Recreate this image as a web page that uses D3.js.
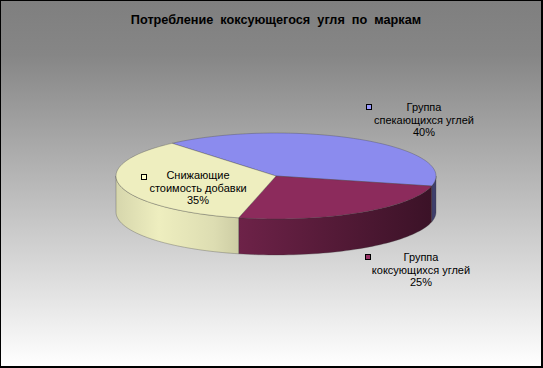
<!DOCTYPE html>
<html><head><meta charset="utf-8">
<script src="https://cdn.jsdelivr.net/npm/d3@7/dist/d3.min.js"></script>
<style>
html,body{margin:0;padding:0;background:#fff;}
svg{display:block;}
text{font-family:"Liberation Sans",Arial,sans-serif;}
</style></head>
<body>
<script>
// ---- data ----
const title = "Потребление  коксующегося  угля  по  маркам";
const categories = ["Группа спекающихся углей", "Группа коксующихся углей", "Снижающие стоимость добавки"];
const labelLines = [["Группа", "спекающихся углей"], ["Группа", "коксующихся углей"], ["Снижающие", "стоимость добавки"]];
const values = [40, 25, 35];

// ---- styles ----
const topColors = ["#8b8bee", "#8c2b5c", "#eeeebf"];
const keyColors = ["#9999ff", "#993366", "#ffffcc"];
const sideStops = [
  [[0, 0.45], [1, 0.45]],
  [[0, 0.78], [0.5, 0.6], [1, 0.42]],
  [[0, 0.9], [0.35, 1.0], [0.8, 0.93], [1, 0.86]]
];
const labelPos = [[424, 107], [421, 257], [198, 175]];
const keyPos = [[366, 104], [365, 254], [141, 174]];

const W = 543, H = 368;
const cx = 276, cy = 176, rx = 160, ry = 43, depth = 36;
const startDeg = 319.5;

const svg = d3.select("body").append("svg").attr("width", W).attr("height", H);
const defs = svg.append("defs");
const bg = defs.append("linearGradient").attr("id", "bg").attr("x1", 0).attr("y1", 0).attr("x2", 0).attr("y2", 1);
bg.append("stop").attr("offset", "0").attr("stop-color", "#7f7f7f");
bg.append("stop").attr("offset", "0.15").attr("stop-color", "#868686");
bg.append("stop").attr("offset", "1").attr("stop-color", "#ffffff");
svg.append("rect").attr("x", 0.5).attr("y", 0.5).attr("width", W - 2).attr("height", H - 2)
  .attr("fill", "url(#bg)").attr("stroke", "#000").attr("stroke-width", 1);
svg.append("rect").attr("x", W - 2).attr("y", 0).attr("width", 2).attr("height", H).attr("fill", "#000");
svg.append("rect").attr("x", 0).attr("y", H - 2).attr("width", W).attr("height", 2).attr("fill", "#000");

svg.append("text").attr("x", 276).attr("y", 24).attr("text-anchor", "middle")
  .attr("font-size", 12.7).attr("font-weight", "bold").attr("fill", "#000")
  .style("white-space", "pre").text(title);

const rad = Math.PI / 180;
const pie = d3.pie().sort(null).value(d => d).startAngle(startDeg * rad).endAngle((startDeg + 360) * rad);
const arcs = pie(values);

const ex = a => cx + rx * Math.sin(a);
const ey = (a, dy = 0) => cy - ry * Math.cos(a) + dy;

function topPath(d) {
  const n = 60, pts = [[cx, cy]];
  for (let i = 0; i <= n; i++) {
    const a = d.startAngle + (d.endAngle - d.startAngle) * i / n;
    pts.push([ex(a), ey(a)]);
  }
  return d3.line()(pts) + "Z";
}

// side visible where d3 angle in [90deg, 270deg] (mod 360)
function sideRange(d) {
  const res = [];
  for (let k = -1; k <= 2; k++) {
    const lo = (90 + 360 * k) * rad, hi = (270 + 360 * k) * rad;
    const s = Math.max(d.startAngle, lo), e = Math.min(d.endAngle, hi);
    if (e > s) res.push([s, e]);
  }
  return res;
}
function sidePath(s, e) {
  const n = 50, top = [], bot = [];
  for (let i = 0; i <= n; i++) {
    const a = s + (e - s) * i / n;
    top.push([ex(a), ey(a)]);
    bot.push([ex(a), ey(a, depth)]);
  }
  return d3.line()(top.concat(bot.reverse())) + "Z";
}

const g = svg.append("g");
arcs.forEach((d, i) => {
  sideRange(d).forEach(([s, e], j) => {
    const id = "sg" + i + "_" + j;
    const x1 = Math.min(ex(s), ex(e)), x2 = Math.max(ex(s), ex(e));
    const lg = defs.append("linearGradient").attr("id", id).attr("gradientUnits", "userSpaceOnUse")
      .attr("x1", x1).attr("x2", x2).attr("y1", 0).attr("y2", 0);
    const base = d3.rgb(topColors[i]);
    sideStops[i].forEach(([o, f]) => {
      lg.append("stop").attr("offset", o)
        .attr("stop-color", d3.rgb(base.r * f, base.g * f, base.b * f).formatHex());
    });
    g.append("path").attr("d", sidePath(s, e)).attr("fill", "url(#" + id + ")")
      .attr("stroke", "#3a3a3a").attr("stroke-width", 0.5).attr("stroke-opacity", 0.6);
  });
});
arcs.forEach((d, i) => {
  g.append("path").attr("d", topPath(d)).attr("fill", topColors[i])
    .attr("stroke", "#3a3a3a").attr("stroke-width", 0.5).attr("stroke-opacity", 0.6);
});

// labels
arcs.forEach((d, i) => {
  const [lx, ly] = labelPos[i];
  const t = svg.append("text").attr("text-anchor", "middle").attr("font-size", 11).attr("fill", "#000");
  const lines = labelLines[i].concat([d.data + "%"]);
  lines.forEach((ln, k) => {
    t.append("tspan").attr("x", lx).attr("y", ly + 4 + k * 12.5).text(ln);
  });
  const [kx, ky] = keyPos[i];
  svg.append("rect").attr("x", kx + 0.5).attr("y", ky + 0.5).attr("width", 5).attr("height", 5)
    .attr("fill", keyColors[i]).attr("stroke", "#000").attr("stroke-width", 1);
});
</script>
</body></html>
